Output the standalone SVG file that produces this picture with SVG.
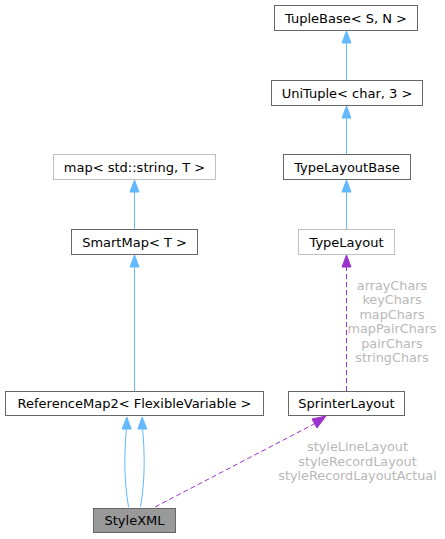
<svg xmlns="http://www.w3.org/2000/svg" width="445" height="539" viewBox="0 0 445 539">
<style>
.n rect{fill:#fff;stroke:#666;stroke-width:1}
.n.g rect{stroke:#bfbfbf}
.n.h rect{fill:#999}
text{font-family:"DejaVu Sans",sans-serif;font-size:13px;text-anchor:middle;fill:#000}
.lbl{fill:#b8b8b8;font-size:12.8px}
.e{fill:none;stroke:#63b8ff;stroke-width:1}
.ea{fill:#63b8ff;stroke:#63b8ff}
.d{fill:none;stroke:#9a32cd;stroke-width:1;stroke-dasharray:5,3}
.da{fill:#9a32cd;stroke:#9a32cd}
</style>
<rect width="445" height="539" fill="#fff"/>
<g id="edges">
<path class="e" d="M346.5,80 V42"/>
<polygon class="ea" points="346.5,31 342,43 351,43"/>
<path class="e" d="M346.5,154 V117"/>
<polygon class="ea" points="346.5,106 342,118 351,118"/>
<path class="e" d="M346.5,229 V191"/>
<polygon class="ea" points="346.5,180 342,192 351,192"/>
<path class="e" d="M134.5,229 V191"/>
<polygon class="ea" points="134.5,180 130,192 139,192"/>
<path class="e" d="M134.5,391 V266"/>
<polygon class="ea" points="134.5,255 130,267 139,267"/>
<path class="e" d="M128.5,507 C124,480 124,455 126.5,428"/>
<polygon class="ea" points="126.8,417 122.2,429 131.2,429"/>
<path class="e" d="M140.5,507 C145,480 145,455 142.5,428"/>
<polygon class="ea" points="142.2,417 137.8,429 146.8,429"/>
<path class="d" d="M346.5,391 V266"/>
<polygon class="da" points="346.5,255 342,267 351,267"/>
<path class="d" d="M155,507 L316,423"/>
<polygon class="da" points="326,416 312,419 317,428"/>
</g>
<g id="labels">
<text class="lbl" x="392" y="289.5">arrayChars</text>
<text class="lbl" x="392" y="304">keyChars</text>
<text class="lbl" x="392" y="318.5">mapChars</text>
<text class="lbl" x="392" y="333">mapPairChars</text>
<text class="lbl" x="392" y="347.5">pairChars</text>
<text class="lbl" x="392" y="362">stringChars</text>
<text class="lbl" x="357.5" y="451">styleLineLayout</text>
<text class="lbl" x="357.5" y="465.5">styleRecordLayout</text>
<text class="lbl" x="357.5" y="480">styleRecordLayoutActual</text>
</g>
<g id="TupleBase" class="n"><rect x="274.5" y="5.5" width="143" height="25"/><text x="346" y="22.5">TupleBase&lt; S, N &gt;</text></g>
<g id="UniTuple" class="n"><rect x="271.5" y="80.5" width="151" height="25"/><text x="347" y="97.5">UniTuple&lt; char, 3 &gt;</text></g>
<g id="TypeLayoutBase" class="n"><rect x="283.5" y="154.5" width="127" height="25"/><text x="347" y="171.5">TypeLayoutBase</text></g>
<g id="TypeLayout" class="n g"><rect x="298.5" y="229.5" width="96" height="25"/><text x="346.5" y="246.5">TypeLayout</text></g>
<g id="SprinterLayout" class="n"><rect x="288.5" y="391.5" width="116" height="24"/><text x="346.5" y="408">SprinterLayout</text></g>
<g id="map" class="n g"><rect x="53.5" y="154.5" width="162" height="25"/><text x="134.5" y="171.5">map&lt; std::string, T &gt;</text></g>
<g id="SmartMap" class="n"><rect x="71.5" y="229.5" width="126" height="25"/><text x="134.5" y="246.5">SmartMap&lt; T &gt;</text></g>
<g id="ReferenceMap2" class="n"><rect x="5.5" y="391.5" width="258" height="24"/><text x="134.5" y="408">ReferenceMap2&lt; FlexibleVariable &gt;</text></g>
<g id="StyleXML" class="n h"><rect x="93.5" y="508.5" width="82" height="24"/><text x="134.5" y="525">StyleXML</text></g>
</svg>
